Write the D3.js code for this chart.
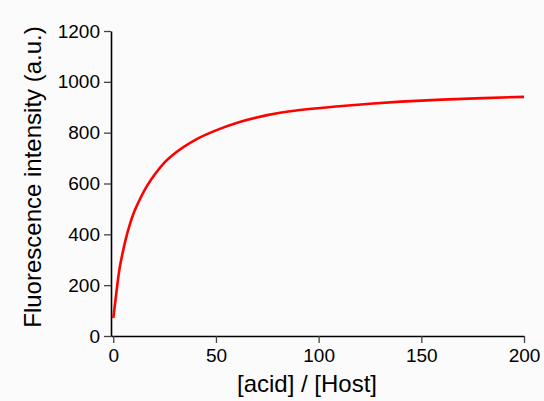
<!DOCTYPE html>
<html>
<head>
<meta charset="utf-8">
<script src="https://cdn.jsdelivr.net/npm/d3@7"></script>
<style>
  body { margin: 0; background: #fbfbfb; }
  svg { display: block; }
  text { font-family: "Liberation Sans", Arial, sans-serif; fill: #000; }
</style>
</head>
<body>
<script>
// Data
var ratio = [0, 1.5, 3, 4.5, 6, 8, 10, 12.5, 15, 20, 25, 30, 40, 50, 60, 75, 90, 110, 125, 140, 160, 180, 200];
var intensity = [70, 170, 262, 325, 378, 437, 485, 530, 570, 633, 683, 719, 772, 809, 838, 869, 888, 904, 914, 922, 930, 936, 941];
var xTicks = [0, 50, 100, 150, 200];
var yTicks = [0, 200, 400, 600, 800, 1000, 1200];

var width = 544, height = 401;

var svg = d3.select("body")
  .append("svg")
    .attr("width", width)
    .attr("height", height);

var x = d3.scaleLinear()
  .domain([-1.1, 200])
  .range([111, 524]);

var y = d3.scaleLinear()
  .domain([0, 1200])
  .range([336, 31]);

// X axis
var xAxis = svg.append("g")
  .attr("transform", "translate(0,336)")
  .call(d3.axisBottom(x).tickValues(xTicks).tickFormat(d3.format("d"))
    .tickSize(7).tickSizeOuter(0).tickPadding(6));

// Y axis
var yAxis = svg.append("g")
  .attr("transform", "translate(111,0)")
  .call(d3.axisLeft(y).tickValues(yTicks).tickFormat(d3.format("d"))
    .tickSize(7).tickSizeOuter(0).tickPadding(4));

[xAxis, yAxis].forEach(function(g) {
  g.select(".domain").attr("stroke", "#000").attr("stroke-width", 1.6);
  g.selectAll(".tick line").attr("stroke", "#444").attr("stroke-width", 1.3);
  g.selectAll(".tick text")
    .style("font-family", "'Liberation Sans', Arial, sans-serif")
    .style("font-size", "19px")
    .attr("fill", "#000");
});

// Axis labels
svg.append("text")
  .attr("x", 307)
  .attr("y", 392)
  .attr("text-anchor", "middle")
  .style("font-size", "24px")
  .text("[acid] / [Host]");

svg.append("text")
  .attr("transform", "translate(41,177) rotate(-90)")
  .attr("text-anchor", "middle")
  .style("font-size", "24px")
  .text("Fluorescence intensity (a.u.)");

// Curve
var line = d3.line()
  .x(function(d, i) { return x(ratio[i]); })
  .y(function(d) { return y(d); })
  .curve(d3.curveMonotoneX);

svg.append("path")
  .datum(intensity)
  .attr("fill", "none")
  .attr("stroke", "#ff0000")
  .attr("stroke-width", 2.6)
  .attr("d", line);
</script>
</body>
</html>
